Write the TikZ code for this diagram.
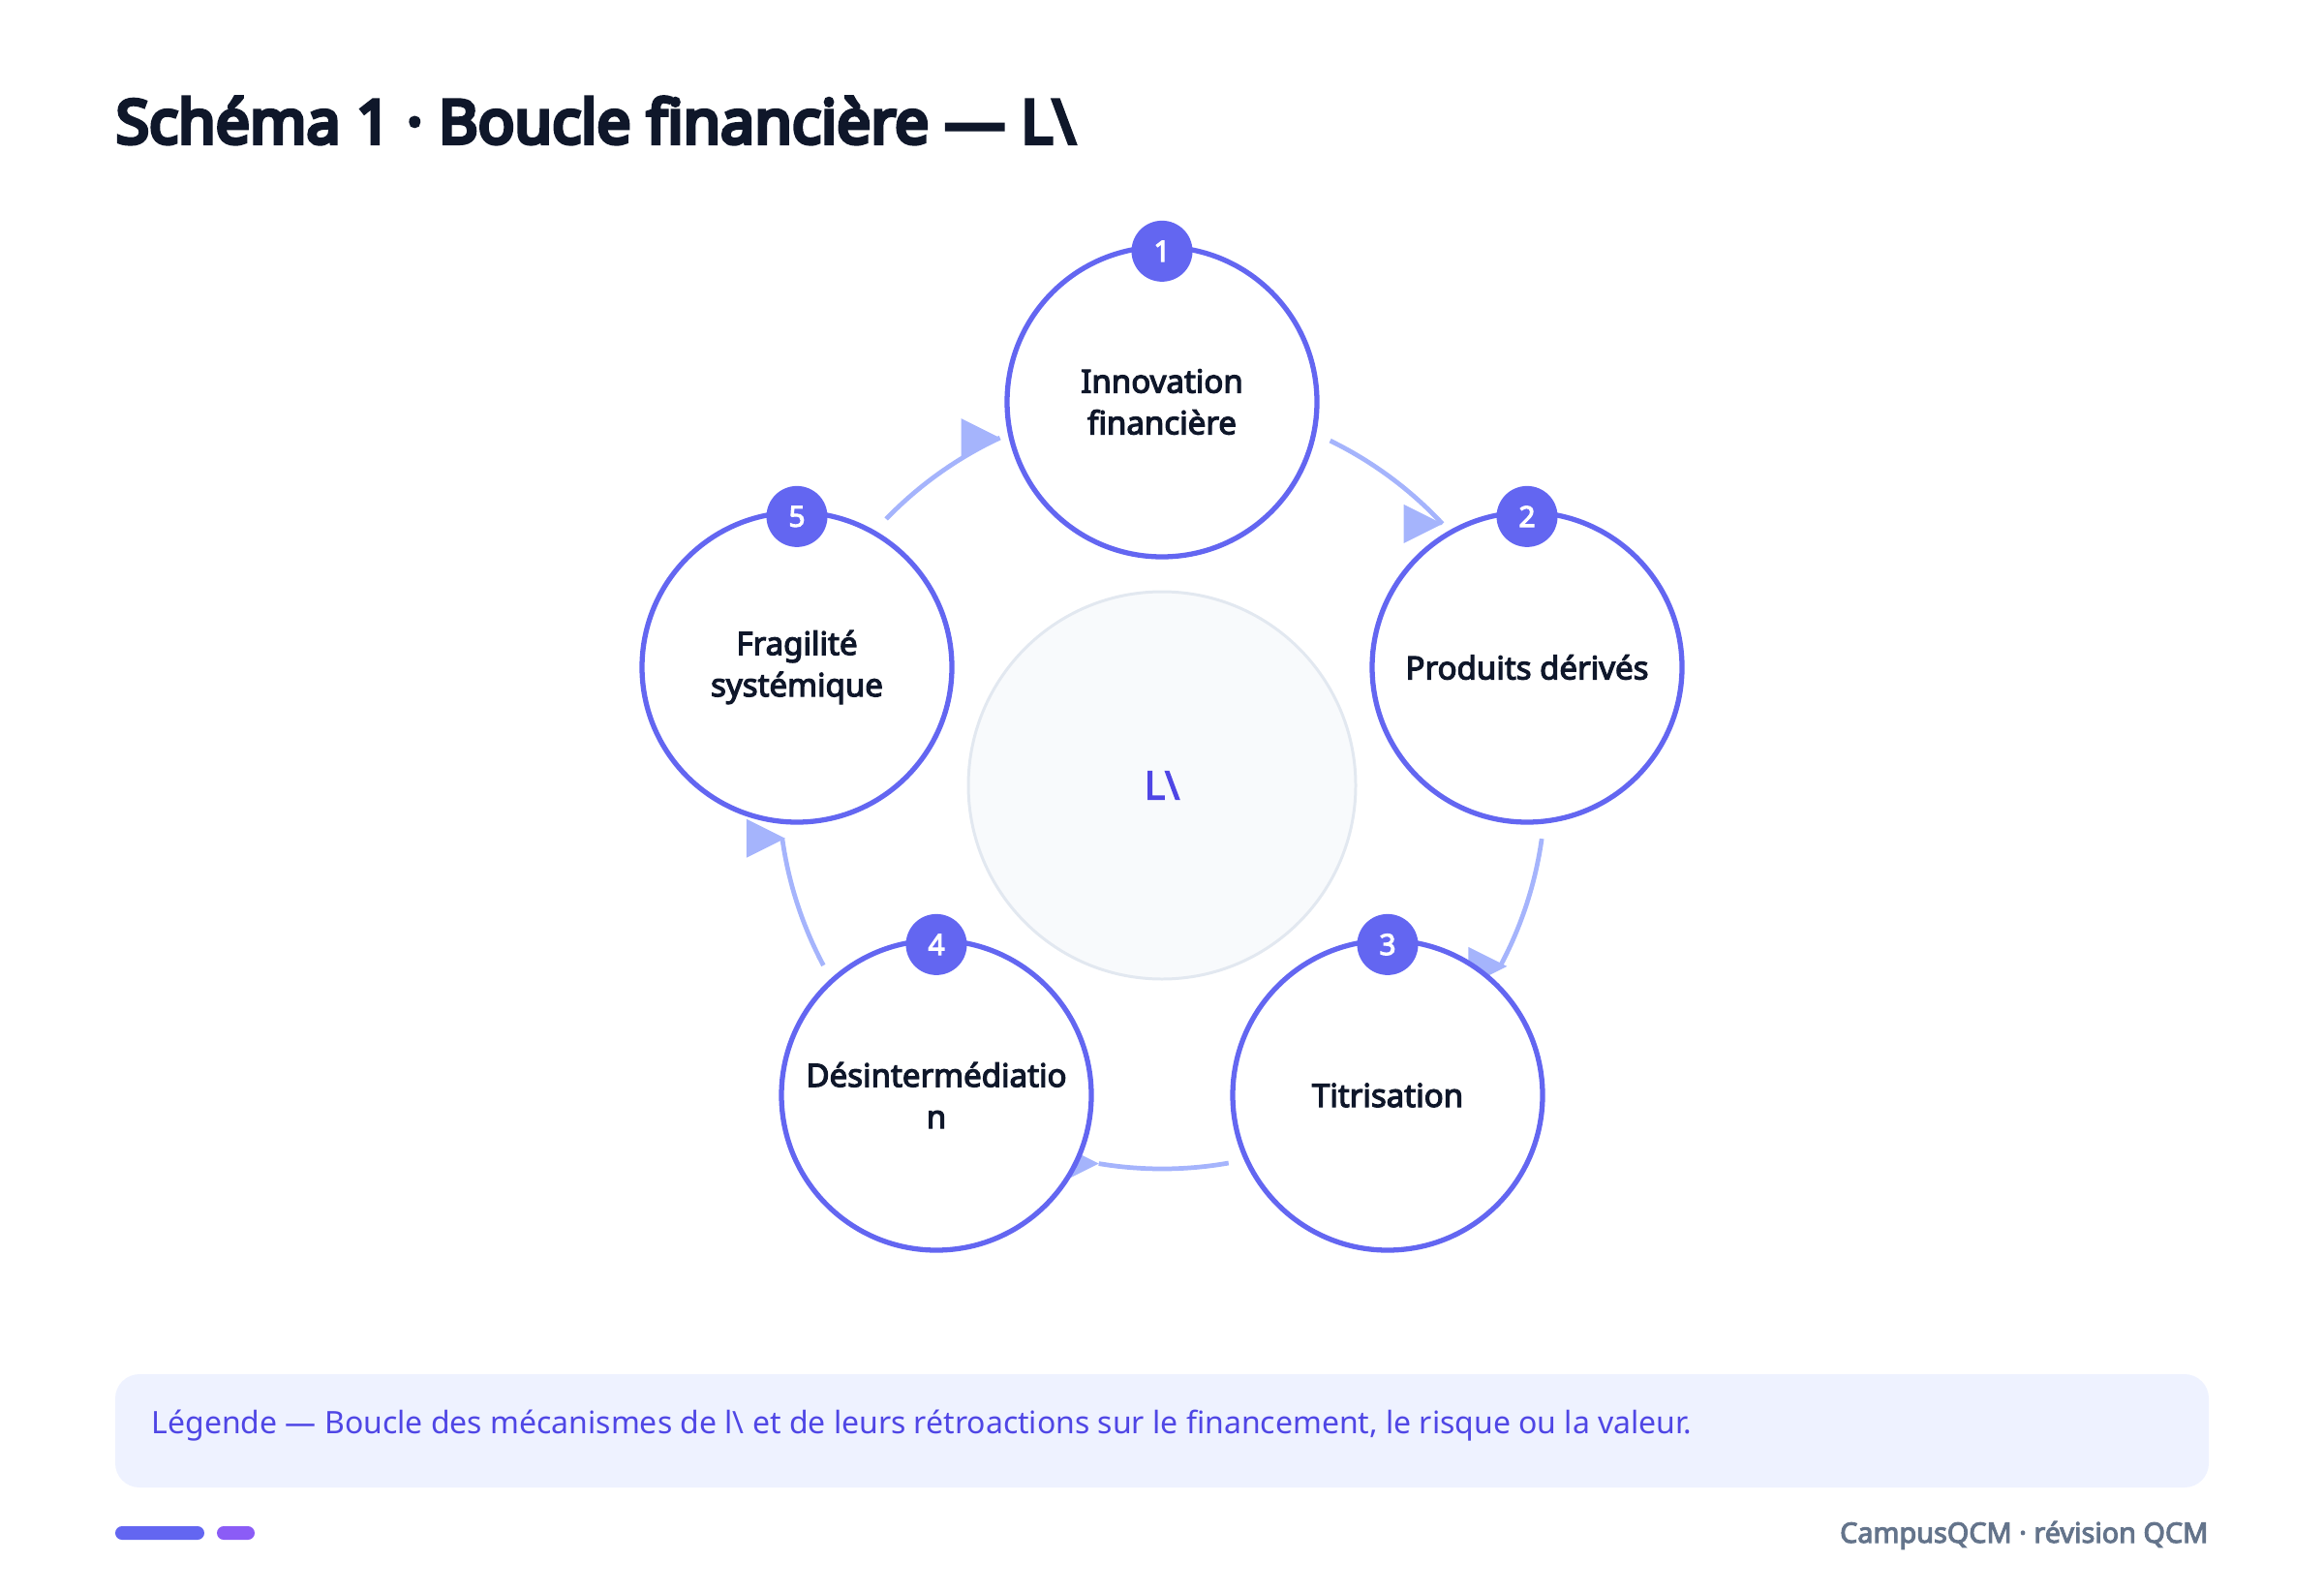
\documentclass[tikz,border=0pt]{standalone}
\usepackage{fontspec}
\setmainfont{Noto Sans}[AutoFakeBold=3.6]
\newfontfamily\titrefont{Noto Sans}[AutoFakeBold=6.5]
\usepackage{tikz}
\usetikzlibrary{calc}
\usepackage{xcolor}
\definecolor{encre}{HTML}{0F172A}
\definecolor{indigo}{HTML}{6366F1}
\definecolor{indigofonce}{HTML}{4F46E5}
\definecolor{lavande}{HTML}{A5B4FC}
\definecolor{brume}{HTML}{EEF2FF}
\definecolor{ardoise}{HTML}{64748B}
\definecolor{mauve}{HTML}{8B5CF6}
\definecolor{nuage}{HTML}{F8FAFC}
\definecolor{trait}{HTML}{E2E8F0}

\begin{document}
\begin{tikzpicture}[
  etape/.style={shape=circle,
    draw=indigo,
    line width=1.5pt,
    fill=white,
    minimum size=3.2cm,
    inner sep=0pt,
    align=center,
    text=encre,
    font=\fontsize{9.4}{12.2}\selectfont\bfseries},
  pastille/.style={shape=circle,
    fill=indigo,
    minimum size=0.63cm,
    inner sep=0pt,
    yshift=-0.07cm,
    text=white,
    font=\fontsize{8.5}{8.5}\selectfont\bfseries},
  fleche/.style={draw=lavande, line width=1.35pt},
  pointe/.style={fill=lavande}]
    %\draw[help lines] (0,0) grid (24,16); % Only for Development
    \useasboundingbox (0,0) rectangle (24,16.44);

    \node[anchor=base west,
      inner sep=0pt,
      text=encre,
      font=\titrefont\fontsize{17.8}{20}\selectfont\bfseries] (titre) at (1.19,14.96) {Schéma 1 · Boucle financière — L\textbackslash};

    % centre
    \node[shape=circle,
      draw=trait,
      line width=0.85pt,
      fill=nuage,
      minimum size=4cm,
      text=indigofonce,
      font=\fontsize{11.5}{11.5}\selectfont\bfseries] (coeur) at (12,8.33) {L\textbackslash};

    % arcs of the loop
    \coordinate (d12) at ($(coeur)+(64:3.96)$);
    \coordinate (a12) at ($(coeur)+(43:3.96)$);
    \draw[fleche] (d12) arc[start angle=64, end angle=43, radius=3.96];
    \fill[pointe] (a12) -- ++(-0.4,0.2) -- ++(0,-0.4) -- cycle;

    \coordinate (d23) at ($(coeur)+(-8:3.96)$);
    \coordinate (a23) at ($(coeur)+(-28:3.98)$);
    \draw[fleche] (d23) arc[start angle=-8, end angle=-28, radius=3.96];
    \fill[pointe] ($(a23)+(0.05,0)$) -- ++(-0.4,0.2) -- ++(0,-0.4) -- cycle;

    \coordinate (d34) at ($(coeur)+(-80:3.96)$);
    \coordinate (a34) at ($(coeur)+(-99.5:3.96)$);
    \draw[fleche] (d34) arc[start angle=-80, end angle=-99.5, radius=3.96];
    \fill[pointe] (a34) -- ++(-0.4,0.2) -- ++(0,-0.4) -- cycle;

    \coordinate (d45) at ($(coeur)+(208:3.96)$);
    \coordinate (a45) at ($(coeur)+(188:3.93)$);
    \draw[fleche] (d45) arc[start angle=208, end angle=188, radius=3.96];
    \fill[pointe] (a45) -- ++(-0.4,0.2) -- ++(0,-0.4) -- cycle;

    \coordinate (d51) at ($(coeur)+(136:3.96)$);
    \coordinate (a51) at ($(coeur)+(115:3.96)$);
    \draw[fleche] (d51) arc[start angle=136, end angle=115, radius=3.96];
    \fill[pointe] (a51) -- ++(-0.4,0.2) -- ++(0,-0.4) -- cycle;

    % steps
    \node[etape] (inno) at (12.00,12.29) {Innovation\\financière};
    \node[etape] (deri) at (15.77,9.55) {Produits dérivés};
    \node[etape] (titr) at (14.33,5.13) {Titrisation};
    \node[etape] (desi) at (9.67,5.13) {Désintermédiatio\\n};
    \node[etape] (frag) at (8.23,9.55) {Fragilité\\systémique};

    \node[pastille] (b1) at (inno.north) {1};
    \node[pastille] (b2) at (deri.north) {2};
    \node[pastille] (b3) at (titr.north) {3};
    \node[pastille] (b4) at (desi.north) {4};
    \node[pastille] (b5) at (frag.north) {5};

    % legend
    \node[shape=rectangle,
      rounded corners=0.25cm,
      fill=brume,
      minimum width=21.62cm,
      minimum height=1.17cm,
      inner sep=0pt] (legende) at (12.00,1.665) {};
    \node[anchor=base west,
      inner sep=0pt,
      text=indigofonce,
      font=\fontsize{9.1}{11}\selectfont] (texte) at (1.56,1.64) {Légende — Boucle des mécanismes de l\textbackslash{} et de leurs rétroactions sur le financement, le risque ou la valeur.};

    % footer
    \node[shape=rectangle,
      rounded corners=0.07cm,
      fill=indigo,
      minimum width=0.92cm,
      minimum height=0.14cm,
      inner sep=0pt] (barre) at (1.65,0.61) {};
    \node[shape=rectangle,
      rounded corners=0.07cm,
      fill=mauve,
      minimum width=0.39cm,
      minimum height=0.14cm,
      inner sep=0pt] (point) at (2.435,0.61) {};
    \node[anchor=base east,
      inner sep=0pt,
      text=ardoise,
      font=\fontsize{8.2}{10}\selectfont\bfseries] (pied) at (22.81,0.51) {CampusQCM · révision QCM};
\end{tikzpicture}
\end{document}
